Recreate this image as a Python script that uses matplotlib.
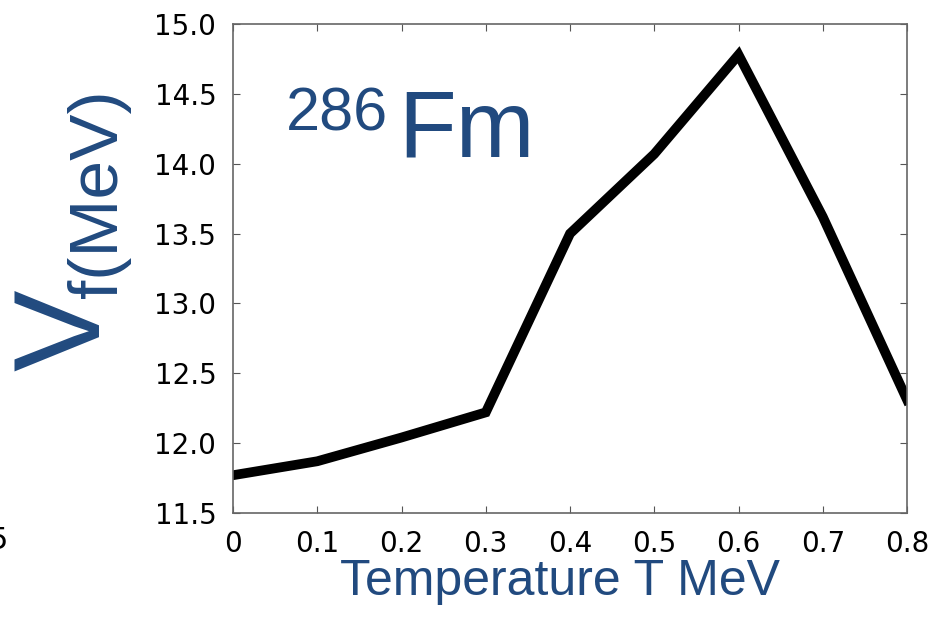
import numpy as np
import matplotlib.pyplot as plt

# Data
temperature = [0.0, 0.1, 0.2, 0.3, 0.4, 0.5, 0.6, 0.7, 0.8]
barrier = [11.77, 11.87, 12.04, 12.22, 13.50, 14.07, 14.78, 13.62, 12.31]

x_ticks = [0, 0.1, 0.2, 0.3, 0.4, 0.5, 0.6, 0.7, 0.8]
x_ticklabels = ["0", "0.1", "0.2", "0.3", "0.4", "0.5", "0.6", "0.7", "0.8"]
y_ticks = [11.5, 12.0, 12.5, 13.0, 13.5, 14.0, 14.5, 15.0]

blue = "#214a7f"

fig = plt.figure(figsize=(9.38, 6.18), dpi=100)
ax = fig.add_axes([0.2484, 0.170, 0.7186, 0.791])

ax.plot(temperature, barrier, color="black", linewidth=7, solid_joinstyle="miter")

ax.set_xlim(0, 0.8)
ax.set_ylim(11.5, 15.0)
ax.set_xticks(x_ticks)
ax.set_xticklabels(x_ticklabels)
ax.set_yticks(y_ticks)
ax.set_yticklabels([f"{v:.1f}" for v in y_ticks])

ax.tick_params(direction="in", length=5, width=0.8, color="#555555",
               top=True, right=True, labelsize=20, pad=12)
for lab in ax.get_xticklabels() + ax.get_yticklabels():
    lab.set_family("DejaVu Sans")
for sp in ax.spines.values():
    sp.set_color("#666666")
    sp.set_linewidth(1.2)

# x label
ax.set_xlabel("Temperature T MeV", fontsize=36, color=blue,
              family="Liberation Sans", labelpad=2)
ax.xaxis.set_label_coords(0.485, -0.095)

# y label built from two pieces: big V and subscript f(MeV)
fig.text(0.072, 0.465, "V", rotation=90, fontsize=88, color=blue,
         family="Liberation Sans", ha="center", va="center")
fig.text(0.106, 0.686, "f(MeV)", rotation=90, fontsize=50, color=blue,
         family="Liberation Sans", ha="center", va="center")

# nucleus label
ax.text(0.078, 0.815, "286", transform=ax.transAxes, fontsize=44, color=blue,
        family="Liberation Sans", ha="left", va="center")
ax.text(0.245, 0.78, "Fm", transform=ax.transAxes, fontsize=68, color=blue,
        family="Liberation Sans", ha="left", va="center")

# leftover digit from a neighbouring panel
fig.text(-0.012, 0.125, "5", fontsize=22, color="black", family="DejaVu Sans",
         ha="left", va="center")

fig.savefig("out.png", dpi=100)
